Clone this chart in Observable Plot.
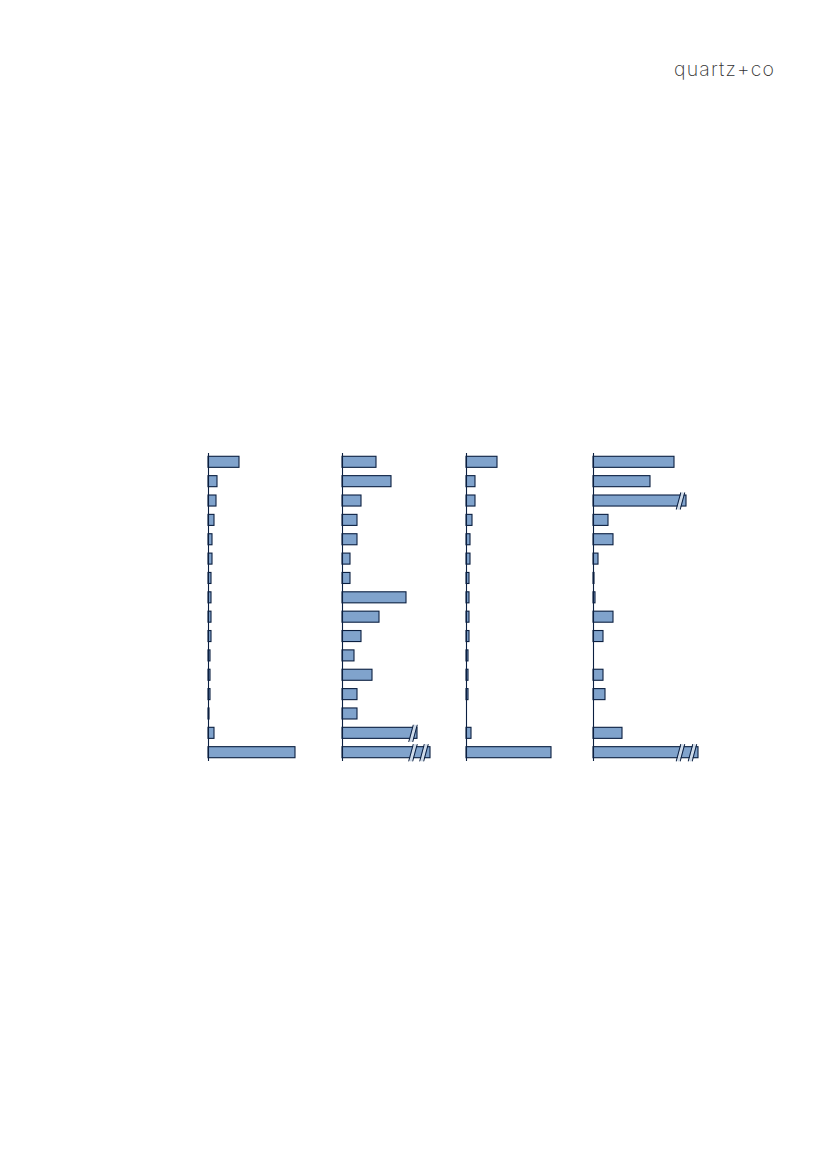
<!DOCTYPE html>
<html><head><meta charset="utf-8">
<script src="https://cdn.jsdelivr.net/npm/d3@7"></script>
<script src="https://cdn.jsdelivr.net/npm/@observablehq/plot@0.6"></script>
<style>
html,body{margin:0;padding:0;background:#fff;}
#wrap{position:relative;width:827px;height:1169px;overflow:hidden;}
#logo{position:absolute;left:674px;top:60px;font-family:Inter,"Open Sans",sans-serif;font-weight:200;font-size:19.5px;color:#333;letter-spacing:1.15px;line-height:1;}
.panel{position:absolute;}
</style>
</head><body>
<div id="wrap"><div id="logo">quartz+co</div></div>
<script>
const rows = ["r1","r2","r3","r4","r5","r6","r7","r8","r9","r10","r11","r12","r13","r14","r15","r16"];
const panel1 = [31, 9, 8, 6, 4, 4, 3, 3, 3, 3, 2, 2, 2, 1, 6, 87];
const panel2 = [34, 49, 19, 15, 15, 8, 8, 64, 37, 19, 12, 30, 15, 15, 75, 88];
const panel3 = [31, 9, 9, 6, 4, 4, 3, 3, 3, 3, 2, 2, 2, null, 5, 85];
const panel4 = [81, 57, 93, 15, 20, 5, 1, 2, 20, 10, null, 10, 12, null, 29, 105];
const breaks2 = [{row:"r15", x:68.5}, {row:"r16", x:68.5}, {row:"r16", x:79.5}];
const breaks4 = [{row:"r3", x:85}, {row:"r16", x:85}, {row:"r16", x:97}];
const panelAxisX = [208.3, 342.3, 466.3, 593.3];

const FILL = "#80a3cc", STROKE = "#0b1f40";
const M = 6, TOP = 453.3, FRAMEH = 308, XW = 130;
const lineShape = {draw(ctx, l){ ctx.moveTo(0,0); ctx.lineTo(0,-l); }};

function makePanel(values, breaks, i){
  const data = rows.map((r,k)=>({row:r, v:values[k]})).filter(d=>d.v!=null);
  const brk = breaks.flatMap(b=>[{row:b.row,x:b.x},{row:b.row,x:b.x+4}]);
  const gap = breaks.map(b=>({row:b.row,x:b.x+2}));
  const p = Plot.plot({
    width: XW + 2*M, height: FRAMEH + 2*M,
    marginLeft: M, marginRight: M, marginTop: M, marginBottom: M,
    x: {domain:[0, XW], axis:null},
    y: {domain: rows, paddingInner:0.43, paddingOuter:0.17, round:false, axis:null},
    marks: [
      Plot.barX(data, {x:"v", y:"row", fill:FILL, stroke:STROKE, strokeWidth:1.1}),
      Plot.vector(gap, {x:"x", y:"row", length:15, rotate:15, anchor:"middle", shape:lineShape, stroke:"#cfdbe9", strokeWidth:3}),
      Plot.vector(brk, {x:"x", y:"row", length:17, rotate:15, anchor:"middle", shape:lineShape, stroke:STROKE, strokeWidth:1}),
      Plot.ruleX([0], {stroke:STROKE, strokeWidth:1.1})
    ]
  });
  p.classList.add("panel");
  p.style.left = (panelAxisX[i] - M) + "px";
  p.style.top = (TOP - M) + "px";
  document.getElementById("wrap").appendChild(p);
  return p;
}
makePanel(panel1, [], 0);
makePanel(panel2, breaks2, 1);
makePanel(panel3, [], 2);
makePanel(panel4, breaks4, 3);
</script>
</body></html>
